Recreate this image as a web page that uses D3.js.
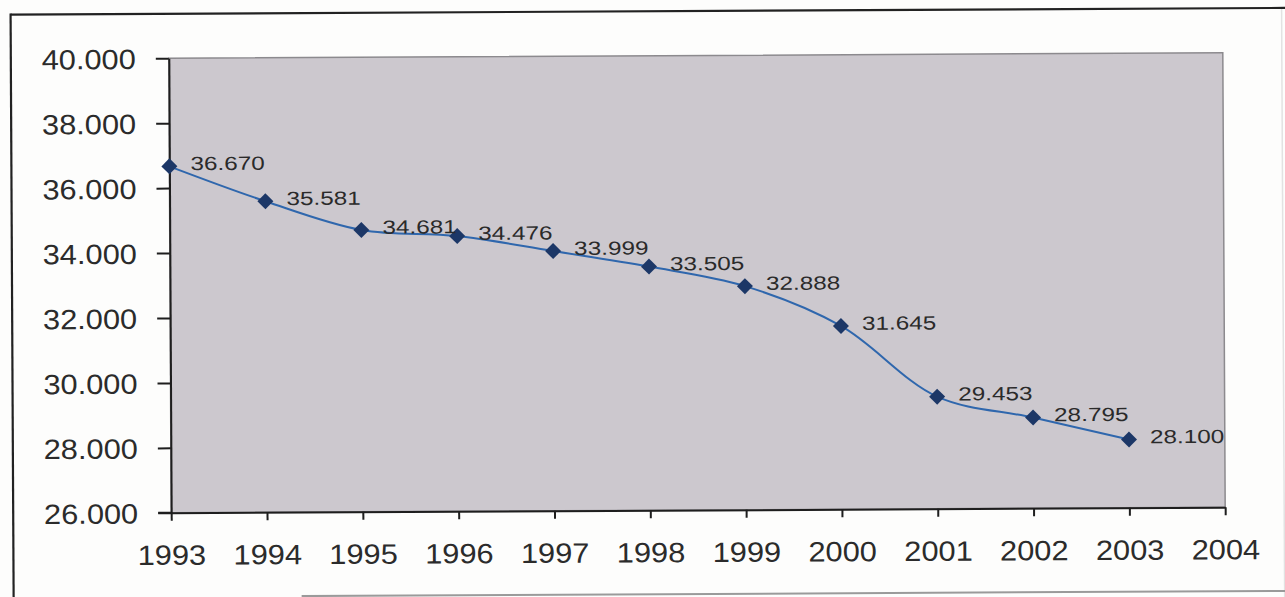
<!DOCTYPE html>
<html>
<head>
<meta charset="utf-8">
<script src="https://cdn.jsdelivr.net/npm/d3@7"></script>
<style>
  html, body { margin: 0; padding: 0; background: #fdfdfc; }
  svg { display: block; }
  text { font-family: "Liberation Sans", Arial, sans-serif; fill: #2b2b2b; }
</style>
</head>
<body>
<svg id="chart" width="1285" height="597"></svg>
<script>
// Annual values 1993–2003
const years = [1993, 1994, 1995, 1996, 1997, 1998, 1999, 2000, 2001, 2002, 2003];
const values = [36670, 35581, 34681, 34476, 33999, 33505, 32888, 31645, 29453, 28795, 28100];
const yearTicks = [1993, 1994, 1995, 1996, 1997, 1998, 1999, 2000, 2001, 2002, 2003, 2004];
const valueTicks = [26000, 28000, 30000, 32000, 34000, 36000, 38000, 40000];

const W = 1285, H = 597;
const plot = { left: 170, right: 1224, top: 55.5, bottom: 510 };

const greek = d3.formatLocale({ decimal: ",", thousands: ".", grouping: [3], currency: ["", " €"] });
const fmt = greek.format(",d");

const svg = d3.select("#chart");
// the printed page sits very slightly tilted
const root = svg.append("g")
  .attr("transform", `rotate(-0.3, ${(plot.left + plot.right) / 2}, ${(plot.top + plot.bottom) / 2})`);

const x = d3.scaleLinear().domain([1993, 2004]).range([plot.left, plot.right]);
const y = d3.scaleLinear().domain([26000, 40000]).range([plot.bottom, plot.top]);

// outer frame
root.append("line").attr("x1", 12).attr("x2", 1290).attr("y1", 11).attr("y2", 11)
  .attr("stroke", "#222").attr("stroke-width", 2.2);
root.append("line").attr("x1", 12).attr("x2", 12).attr("y1", 10).attr("y2", 600)
  .attr("stroke", "#222").attr("stroke-width", 2.2);
root.append("line").attr("x1", 1283).attr("x2", 1283).attr("y1", 12).attr("y2", 600)
  .attr("stroke", "#e2e2e2").attr("stroke-width", 1.5);
root.append("line").attr("x1", 300).attr("x2", 1290).attr("y1", 594).attr("y2", 594)
  .attr("stroke", "#9a9a9a").attr("stroke-width", 2);

// plot area
root.append("rect")
  .attr("x", plot.left).attr("y", plot.top)
  .attr("width", plot.right - plot.left).attr("height", plot.bottom - plot.top)
  .attr("fill", "#ccc8ce").attr("stroke", "#8c8a8e").attr("stroke-width", 1.5);

// y axis
const yAxis = root.append("g")
  .attr("transform", `translate(${plot.left},0)`)
  .call(d3.axisLeft(y).tickValues(valueTicks).tickFormat(fmt).tickSize(13).tickSizeOuter(0));
yAxis.select(".domain").attr("stroke", "#1e1e1e").attr("stroke-width", 2);
yAxis.selectAll(".tick line").attr("stroke", "#1e1e1e").attr("stroke-width", 2);
yAxis.selectAll(".tick text")
  .attr("x", -30).attr("dy", "0.36em")
  .attr("transform", "scale(1.1,1)")
  .style("font-size", "28px").style("fill", "#2b2b2b");

// x axis
const xAxis = root.append("g")
  .attr("transform", `translate(0,${plot.bottom})`)
  .call(d3.axisBottom(x).tickValues(yearTicks).tickFormat(d3.format("d")).tickSize(8).tickSizeOuter(0));
xAxis.select(".domain").attr("stroke", "#1e1e1e").attr("stroke-width", 2);
xAxis.selectAll(".tick line").attr("stroke", "#1e1e1e").attr("stroke-width", 2);
xAxis.selectAll(".tick text")
  .attr("x", 0).attr("y", 52).attr("dy", null)
  .attr("transform", "scale(1.1,1)")
  .style("font-size", "28px").style("fill", "#2b2b2b");
// extend the base line left to meet the lowest y tick
root.append("line")
  .attr("x1", plot.left - 13).attr("x2", plot.left)
  .attr("y1", plot.bottom).attr("y2", plot.bottom)
  .attr("stroke", "#1e1e1e").attr("stroke-width", 2);

const pts = years.map((yr, i) => ({ yr, v: values[i] }));

// series line
root.append("path")
  .datum(pts)
  .attr("fill", "none")
  .attr("stroke", "#2f67ad")
  .attr("stroke-width", 2)
  .attr("d", d3.line().x(d => x(d.yr)).y(d => y(d.v)).curve(d3.curveCatmullRom.alpha(0.5)));

// diamond markers
const r = 8;
root.append("g").selectAll("path")
  .data(pts)
  .join("path")
  .attr("fill", "#1c3767")
  .attr("d", d => {
    const cx = x(d.yr), cy = y(d.v);
    return `M${cx},${cy - r}L${cx + r},${cy}L${cx},${cy + r}L${cx - r},${cy}Z`;
  });

// value labels
root.append("g").selectAll("g")
  .data(pts)
  .join("g")
  .attr("transform", d => `translate(${x(d.yr) + 21},${y(d.v) - 3})`)
  .append("text")
  .attr("transform", "scale(1.28,1)")
  .attr("dy", "0.36em")
  .style("font-size", "19px")
  .style("fill", "#2a2a2a")
  .text(d => fmt(d.v));
</script>
</body>
</html>
